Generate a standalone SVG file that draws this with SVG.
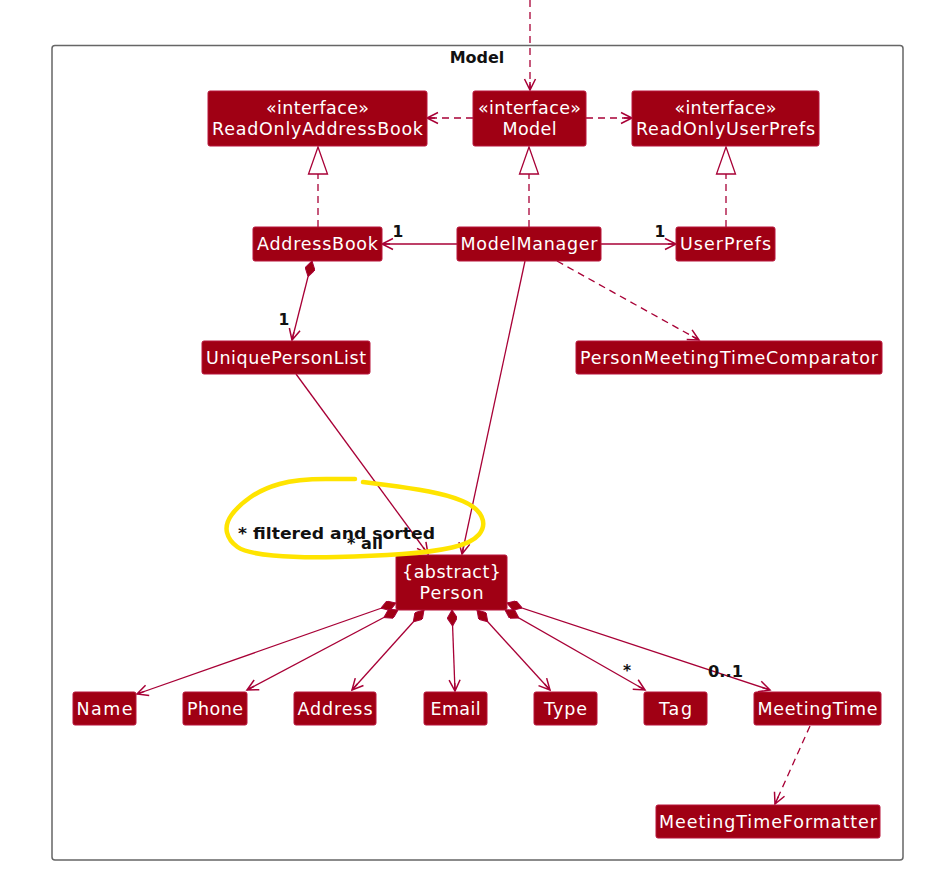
<svg xmlns="http://www.w3.org/2000/svg" width="943" height="883" viewBox="0 0 943 883">
<style>
.node rect{fill:#A00014;stroke:#B8143A;stroke-width:1}
.node text{font-family:"DejaVu Sans",sans-serif;font-size:17.5px;fill:#FFFFFF;text-anchor:middle}
.ln{fill:none;stroke:#A80036;stroke-width:1.3}
.dash{stroke-dasharray:7,5}
.arr{marker-end:url(#open)}
.comp{marker-start:url(#diamond)}
.tri{fill:#FFFFFF;stroke:#A80036;stroke-width:1.3}
.lbl{font-family:"DejaVu Sans",sans-serif;font-size:15.5px;font-weight:bold;fill:#111111}
</style>
<defs>
<marker id="open" viewBox="0 0 14 14" refX="12" refY="7" markerWidth="14" markerHeight="14" markerUnits="userSpaceOnUse" orient="auto">
<path d="M1,1.5 L12,7 L1,12.5 M4,7 L12,7" fill="none" stroke="#A80036" stroke-width="1.5"/>
</marker>
<marker id="diamond" viewBox="0 0 16 10" refX="0" refY="5" markerWidth="16" markerHeight="10" markerUnits="userSpaceOnUse" orient="auto">
<path d="M0,5 L8,0 L16,5 L8,10 Z" fill="#A00014" stroke="#A80036" stroke-width="1"/>
</marker>
</defs>
<rect width="943" height="883" fill="#FFFFFF"/>
<g id="frame">
<rect x="52" y="45.5" width="851" height="814.5" rx="3" fill="none" stroke="#666666" stroke-width="1.5"/>
<text x="477" y="63" font-family="DejaVu Sans, sans-serif" font-size="16" font-weight="bold" fill="#111111" text-anchor="middle">Model</text>
</g>
<g id="connectors">
<path class="ln dash arr" d="M530,0 L530,90"/>
<path class="ln dash arr" d="M473,118 L427,118"/>
<path class="ln dash arr" d="M586,118 L632,118"/>
<path class="ln dash" d="M318,227 L318,174"/>
<polygon class="tri" points="318,147 308.5,174 327.5,174"/>
<path class="ln dash" d="M529,227 L529,174"/>
<polygon class="tri" points="529,147 519.5,174 538.5,174"/>
<path class="ln dash" d="M726,227 L726,174"/>
<polygon class="tri" points="726,147 716.5,174 735.5,174"/>
<path class="ln arr" d="M457,244 L382,244"/>
<path class="ln arr" d="M601,244 L676,244"/>
<path class="ln comp arr" d="M312,261 L292,340"/>
<path class="ln arr" d="M296,374 L428,554"/>
<path class="ln arr" d="M525,261 L462,554"/>
<path class="ln dash arr" d="M557,261 L699,340"/>
<path class="ln comp arr" d="M396,603 L137,694"/>
<path class="ln comp arr" d="M398,610 L247,690"/>
<path class="ln comp arr" d="M424,610 L352,690"/>
<path class="ln comp arr" d="M452,610 L455,691"/>
<path class="ln comp arr" d="M477,610 L550,690"/>
<path class="ln comp arr" d="M505,610 L645,690"/>
<path class="ln comp arr" d="M507,603 L770,690"/>
<path class="ln dash arr" d="M810,726 L775,804"/>
</g>
<g id="labels">
<text class="lbl" x="398" y="237" text-anchor="middle">1</text>
<text class="lbl" x="660" y="237" text-anchor="middle">1</text>
<text class="lbl" x="284" y="325" text-anchor="middle">1</text>
<text class="lbl" x="238" y="539" textLength="197" lengthAdjust="spacingAndGlyphs">* filtered and sorted</text>
<text class="lbl" x="347" y="549" textLength="36" lengthAdjust="spacingAndGlyphs">* all</text>
<text class="lbl" x="623" y="676">*</text>
<text class="lbl" x="708" y="677" textLength="35" lengthAdjust="spacingAndGlyphs">0..1</text>
</g>
<g id="ReadOnlyAddressBook" class="node"><rect x="208" y="91" width="219" height="55" rx="2"/><text x="317.5" y="114" textLength="103">«interface»</text><text x="317.5" y="135" textLength="211">ReadOnlyAddressBook</text></g>
<g id="Model" class="node"><rect x="473" y="91" width="113" height="55" rx="2"/><text x="529.5" y="114" textLength="103">«interface»</text><text x="529.5" y="135" textLength="54">Model</text></g>
<g id="ReadOnlyUserPrefs" class="node"><rect x="632" y="91" width="187" height="55" rx="2"/><text x="725.5" y="114" textLength="102">«interface»</text><text x="725.5" y="135" textLength="179">ReadOnlyUserPrefs</text></g>
<g id="AddressBook" class="node"><rect x="253" y="227" width="129" height="34" rx="2"/><text x="317.5" y="250" textLength="121">AddressBook</text></g>
<g id="ModelManager" class="node"><rect x="457" y="227" width="144" height="34" rx="2"/><text x="529" y="250" textLength="137">ModelManager</text></g>
<g id="UserPrefs" class="node"><rect x="676" y="227" width="99" height="34" rx="2"/><text x="725.5" y="250" textLength="91">UserPrefs</text></g>
<g id="UniquePersonList" class="node"><rect x="202" y="341" width="168" height="33" rx="2"/><text x="286" y="364" textLength="160">UniquePersonList</text></g>
<g id="PersonMeetingTimeComparator" class="node"><rect x="576" y="341" width="306" height="33" rx="2"/><text x="729" y="364" textLength="298">PersonMeetingTimeComparator</text></g>
<g id="Person" class="node"><rect x="396" y="555" width="111" height="55" rx="2"/><text x="451.5" y="578" textLength="99">{abstract}</text><text x="451.5" y="599" textLength="64">Person</text></g>
<g id="Name" class="node"><rect x="73" y="692" width="63" height="33" rx="2"/><text x="104.5" y="715" textLength="56">Name</text></g>
<g id="Phone" class="node"><rect x="183" y="692" width="64" height="33" rx="2"/><text x="215" y="715" textLength="56">Phone</text></g>
<g id="Address" class="node"><rect x="294" y="692" width="82" height="33" rx="2"/><text x="335" y="715" textLength="75">Address</text></g>
<g id="Email" class="node"><rect x="424" y="692" width="63" height="33" rx="2"/><text x="455.5" y="715" textLength="50">Email</text></g>
<g id="Type" class="node"><rect x="534" y="692" width="63" height="33" rx="2"/><text x="565.5" y="715" textLength="43">Type</text></g>
<g id="Tag" class="node"><rect x="644" y="692" width="63" height="33" rx="2"/><text x="675.5" y="715" textLength="33">Tag</text></g>
<g id="MeetingTime" class="node"><rect x="754" y="692" width="127" height="33" rx="2"/><text x="817.5" y="715" textLength="120">MeetingTime</text></g>
<g id="MeetingTimeFormatter" class="node"><rect x="656" y="805" width="224" height="33" rx="2"/><text x="768" y="828" textLength="218">MeetingTimeFormatter</text></g>
<g id="highlight">
<path d="M355,479 L326,479 Q297,479 279.5,484 Q262,489 250,497.5 Q238,506 231.5,515 Q225,524 227,532.5 Q229,541 237.5,547 Q246,553 273,555.5 Q300,558 336.5,557 Q373,556 402.5,554 Q432,552 452,547.5 Q472,543 479,534.5 Q486,526 481.5,516.5 Q477,507 462.5,501 Q448,495 429,491.5 Q410,488 386.5,485 L363,482" fill="none" stroke="#FFE400" stroke-width="4.5" stroke-linecap="round" stroke-linejoin="round"/>
</g>
</svg>
